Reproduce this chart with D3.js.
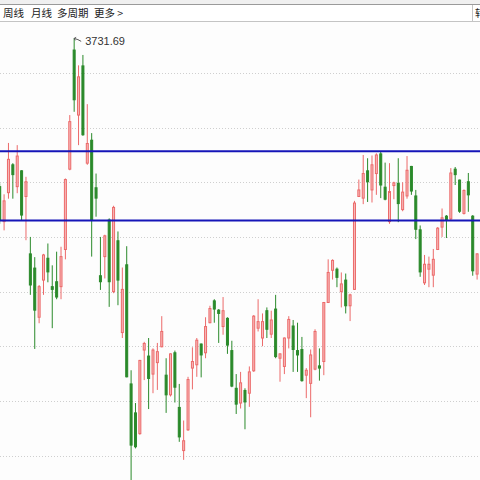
<!DOCTYPE html>
<html>
<head>
<meta charset="utf-8">
<script src="https://cdn.jsdelivr.net/npm/d3@7"></script>
<style>
  html, body { margin: 0; padding: 0; background: #ffffff; }
  svg { display: block; }
</style>
</head>
<body>
<svg id="chart" width="480" height="480"></svg>
<script>
// Daily K-line: open, high, low, close per session
const opens  = [3596,3564,3590.5,3616,3596,3610.5,3587,3534.5,3521.5,3476.5,3510.5,3530.5,3504.5,3509,3504.5,3538.5,3612,3721,3661.5,3706.5,3617.5,3638.5,3595,3514.5,3532,3565.5,3500,3546.5,3462.5,3524.5,3415.5,3389,3370,3446.5,3441,3424.5,3435,3449.5,3423.5,3405.5,3444,3394,3354.5,3373.5,3430,3433,3452,3444,3471.5,3491.5,3483,3468,3475.5,3446,3411.5,3398,3409.5,3407,3427.5,3466.5,3457.5,3482.5,3461,3484,3439,3431.5,3457.5,3468.5,3446,3447,3423.5,3416,3429,3432,3436,3490,3519.5,3520.5,3500,3510.5,3487,3502,3587,3585.5,3610.5,3593,3608,3626,3595.5,3564,3597,3599,3575,3587.5,3614.5,3587.5,3556.5,3508,3520.5,3515,3538.5,3559,3569,3566.5,3612,3602,3571.5,3600.5,3569,3516];
const highs  = [3599,3589,3636,3617.5,3634,3611,3605,3550,3531.5,3506,3534.5,3544,3524,3536.5,3541,3603.5,3661.5,3731.69,3707,3716.5,3671.5,3645,3608,3550,3552,3567,3578.5,3555,3522,3541.5,3428,3398,3437.5,3454,3457.5,3448,3453,3477.5,3439,3443.5,3446,3415.5,3382,3422,3449,3457.5,3452.5,3476.5,3487,3493,3484,3495,3476.5,3455,3424.5,3426.5,3411.5,3431.5,3478.5,3493,3480,3485.5,3482.5,3497,3443.5,3458,3477.5,3474,3471.5,3458.5,3430,3447,3465.5,3448,3490.5,3529.5,3529.5,3522,3517.5,3516.5,3498,3583,3602.5,3625,3622,3624.5,3626.5,3628,3618,3617.5,3600.5,3622,3600,3624,3615,3593,3560.5,3533.5,3532,3539,3559,3576,3570,3613,3614,3602.5,3593.5,3608.5,3570,3535];
const lows   = [3562,3556,3585,3585,3590,3565.5,3547,3497,3447.5,3471,3497,3508.5,3466.5,3493,3493,3529.5,3611,3664.5,3634,3642.5,3616,3532,3568.5,3501.5,3512,3486,3498.5,3487.5,3457.5,3421.5,3326,3356.5,3369,3419,3392.5,3407,3410,3449,3389,3404,3398.5,3362.5,3346,3372.5,3410.5,3422,3421.5,3439,3471,3471.5,3453,3460.5,3443,3412.5,3388,3393,3374,3394.5,3426.5,3463.5,3450,3457.5,3457.5,3439,3417.5,3424.5,3448,3426.5,3426.5,3417.5,3402.5,3385,3428,3418.5,3423.5,3489.5,3511,3504,3485.5,3480,3473,3501.5,3586.5,3580,3582,3581.5,3588.5,3585.5,3583.5,3562,3584.5,3563.5,3573.5,3585,3588.5,3548,3513.5,3506,3504,3504,3538,3550,3549,3565.5,3597.5,3572,3570.5,3573,3514.5,3511];
const closes = [3565.5,3583,3621,3607,3624,3570,3600.5,3506,3483,3504.5,3533.5,3518,3502,3495,3532,3602.5,3655.5,3675.5,3696.5,3643.5,3635.5,3565.5,3585.5,3509,3551,3509,3577,3510.5,3502,3422,3359.5,3358,3437,3452.5,3420.5,3446.5,3445,3463.5,3405.5,3443,3412.5,3367,3363.5,3419.5,3436,3455.5,3442,3468,3484.5,3484,3480,3482.5,3451,3413.5,3397,3416.5,3399,3426.5,3477.5,3472.5,3472.5,3465.5,3474,3440.5,3443,3457.5,3474.5,3447,3442,3418.5,3428,3442,3463.5,3430,3490,3517.5,3528.5,3513,3507,3487,3497,3581,3593,3608,3600.5,3616,3625,3597.5,3584.5,3591.5,3599.5,3580.5,3591,3611,3592,3557,3518,3525,3525,3529.5,3558,3567.5,3566,3608.5,3607,3573.5,3592.5,3588.5,3519,3534.5];

// Price gridlines and the two horizontal reference levels
const gridLevels = [3350, 3400, 3450, 3500, 3550, 3600, 3650, 3700];
const refLevels  = [3628.5, 3565];
const toolbarItems = ["周线", "月线", "多周期", "更多 >"];
const highLabel = "3731.69";

const W = 480, H = 480;
const plotTop = 22;

const svg = d3.select("#chart");

const y = d3.scaleLinear().domain([3350, 3700]).range([455.5, 73]);
const x = d3.scaleLinear().domain([0, opens.length - 1]).range([-0.3, 477.1]);

const candles = opens.map((o, i) => ({ i, o, h: highs[i], l: lows[i], c: closes[i] }));

// plot background
svg.append("rect").attr("x", 0).attr("y", plotTop).attr("width", W).attr("height", H - plotTop)
  .attr("fill", "#fdfdfd");

const plot = svg.append("g");

// dotted gridlines
plot.selectAll("line.grid").data(gridLevels).join("line")
  .attr("class", "grid")
  .attr("x1", 0).attr("x2", W)
  .attr("y1", d => Math.round(y(d)) + 0.5).attr("y2", d => Math.round(y(d)) + 0.5)
  .attr("stroke", "#cfcfcf").attr("stroke-width", 1).attr("stroke-dasharray", "1,2");

const upStroke = "#ec6a6a", upFill = "#f7b9b9";
const dnColor = "#2b8a2b";

// wicks
plot.selectAll("line.wick").data(candles).join("line")
  .attr("class", "wick")
  .attr("x1", d => x(d.i)).attr("x2", d => x(d.i))
  .attr("y1", d => y(d.h)).attr("y2", d => y(d.l))
  .attr("stroke", d => d.c >= d.o ? upStroke : dnColor)
  .attr("stroke-width", 1);

// bodies
plot.selectAll("rect.body").data(candles).join("rect")
  .attr("class", "body")
  .attr("x", d => x(d.i) - 1)
  .attr("width", 2)
  .attr("y", d => y(Math.max(d.o, d.c)))
  .attr("height", d => Math.max(1, Math.abs(y(d.o) - y(d.c))))
  .attr("fill", d => d.c >= d.o ? upFill : dnColor)
  .attr("stroke", d => d.c >= d.o ? upStroke : dnColor)
  .attr("stroke-width", 1);

// reference levels
plot.selectAll("line.ref").data(refLevels).join("line")
  .attr("class", "ref")
  .attr("x1", 0).attr("x2", W)
  .attr("y1", d => y(d)).attr("y2", d => y(d))
  .attr("stroke", "#1515b8").attr("stroke-width", 2);

// high marker
const peak = candles.reduce((a, b) => (b.h > a.h ? b : a));
const hx = x(peak.i), hy = y(peak.h);
plot.append("path")
  .attr("d", `M${hx},${hy} l2,-1 M${hx},${hy} l1,2 M${hx},${hy} q4,1 7,3`)
  .attr("fill", "none").attr("stroke", "#555").attr("stroke-width", 1);
plot.append("text")
  .attr("x", hx + 11).attr("y", hy + 7)
  .attr("font-family", "Arial, 'Liberation Sans', sans-serif")
  .attr("font-size", 11).attr("fill", "#333")
  .text(highLabel);

// toolbar
const bar = svg.append("g");
bar.append("rect").attr("x", 0).attr("y", 0).attr("width", W).attr("height", plotTop)
  .attr("fill", "#ffffff");
bar.append("rect").attr("x", 0).attr("y", 0).attr("width", W).attr("height", 4)
  .attr("fill", "#f0f0f0");
bar.append("line").attr("x1", 0).attr("x2", W).attr("y1", 4.5).attr("y2", 4.5)
  .attr("stroke", "#9a9a9a");
bar.append("line").attr("x1", 0).attr("x2", W).attr("y1", 21.5).attr("y2", 21.5)
  .attr("stroke", "#c4c4c4");
bar.append("line").attr("x1", 472.5).attr("x2", 472.5).attr("y1", 5).attr("y2", 21)
  .attr("stroke", "#c4c4c4");

const itemX = [3, 31, 57, 94];
bar.selectAll("text.tab").data(toolbarItems).join("text")
  .attr("class", "tab")
  .attr("x", (d, i) => itemX[i]).attr("y", 17)
  .attr("font-family", "'Noto Sans CJK SC', sans-serif")
  .attr("font-size", 10.5).attr("fill", "#222")
  .text(d => d);
// right-hand button, partly outside the visible strip
bar.append("text").attr("x", 475).attr("y", 17)
  .attr("font-family", "'Noto Sans CJK SC', sans-serif")
  .attr("font-size", 10.5).attr("fill", "#222").text("转");
</script>
</body>
</html>
